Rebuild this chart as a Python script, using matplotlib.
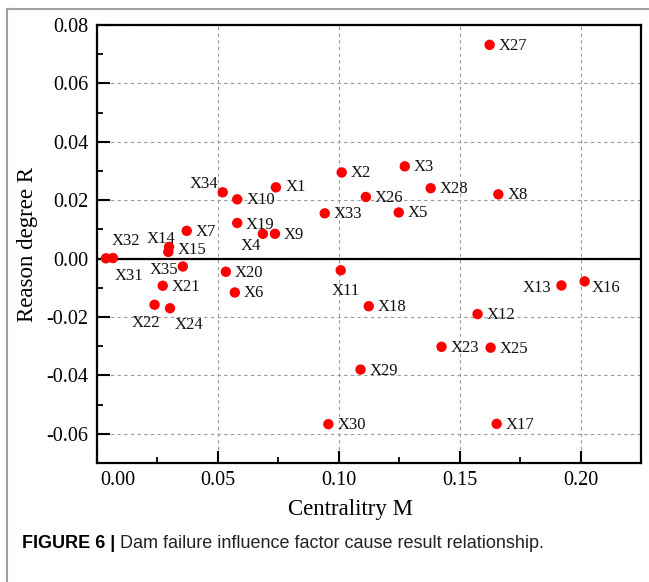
import matplotlib
matplotlib.use("Agg")
import matplotlib.pyplot as plt
from matplotlib.ticker import MultipleLocator, FormatStrFormatter
from matplotlib.lines import Line2D
import matplotlib.transforms as mtransforms

# ---- data ----
names = ["X1", "X2", "X3", "X4", "X5", "X6", "X7", "X8", "X9", "X10",
         "X11", "X12", "X13", "X14", "X15", "X16", "X17", "X18", "X19", "X20",
         "X21", "X22", "X23", "X24", "X25", "X26", "X27", "X28", "X29", "X30",
         "X31", "X32", "X33", "X34", "X35"]
centrality = [0.0740, 0.1012, 0.1273, 0.0686, 0.1248, 0.0570, 0.0371, 0.1660, 0.0736, 0.0580,
              0.1008, 0.1574, 0.1921, 0.0298, 0.0295, 0.2017, 0.1653, 0.1124, 0.0580, 0.0533,
              0.0272, 0.0238, 0.1425, 0.0302, 0.1628, 0.1112, 0.1624, 0.1380, 0.1090, 0.0957,
              0.0037, 0.0066, 0.0942, 0.0520, 0.0355]
reason = [0.0244, 0.0295, 0.0316, 0.0085, 0.0158, -0.0116, 0.0095, 0.0220, 0.0085, 0.0203,
          -0.0040, -0.0190, -0.0092, 0.0040, 0.0023, -0.0078, -0.0566, -0.0163, 0.0122, -0.0045,
          -0.0093, -0.0158, -0.0302, -0.0170, -0.0305, 0.0211, 0.0732, 0.0241, -0.0380, -0.0567,
          0.0001, 0.0002, 0.0155, 0.0227, -0.0027]

# ---- label placement (pixel offsets, ha) ----
default_off = (9, -1, "left")
label_off = {
    "X34": (-4, 8, "right"),
    "X1": (10, 0, "left"),
    "X19": (8, -2, "left"),
    "X4": (-2, -12, "right"),
    "X14": (-8, 8, "center"),
    "X15": (9, 2, "left"),
    "X32": (-1, 17, "left"),
    "X31": (9, -18, "left"),
    "X35": (-5, -4, "right"),
    "X22": (-9, -18, "center"),
    "X24": (5, -17, "left"),
    "X11": (5, -21, "center"),
    "X13": (-10, -3, "right"),
    "X16": (7, -7, "left"),
}

fig = plt.figure(figsize=(6.49, 5.82), dpi=100)
W, H = 649, 582
ax = fig.add_axes([97 / W, (H - 463) / H, 544 / W, 438 / H])

serif = "Liberation Serif"

ax.scatter(centrality, reason, s=56, color="#ff0000", edgecolors="none", zorder=3)
for n, x, y in zip(names, centrality, reason):
    dx, dy, ha = label_off.get(n, default_off)
    ax.annotate(n, (x, y), xytext=(dx, dy), textcoords="offset pixels",
                ha=ha, va="center", fontsize=12, family=serif, color="#111111", zorder=4)

ax.axhline(0, color="black", lw=1.6, zorder=2)

ax.set_xlim(0, 0.225)
ax.set_ylim(-0.07, 0.08)
ax.xaxis.set_major_locator(MultipleLocator(0.05))
ax.xaxis.set_minor_locator(MultipleLocator(0.025))
ax.yaxis.set_major_locator(MultipleLocator(0.02))
ax.yaxis.set_minor_locator(MultipleLocator(0.01))
ax.xaxis.set_major_formatter(FormatStrFormatter("%.2f"))
ax.yaxis.set_major_formatter(FormatStrFormatter("%.2f"))

ax.grid(True, which="major", color="#999999", linestyle=(0, (3, 3)), linewidth=0.8)
ax.set_axisbelow(True)

ax.tick_params(which="both", direction="in", top=False, right=False)
ax.tick_params(which="major", length=9, width=1.5, labelsize=14.5, pad=6)
ax.tick_params(which="minor", length=4, width=1.3)
for sp in ax.spines.values():
    sp.set_linewidth(1.6)

for lab in ax.get_xticklabels() + ax.get_yticklabels():
    lab.set_family(serif)

# shift 0.00 x-label to the right like the reference
fig.canvas.draw()
xl = ax.get_xticklabels()
for lab in xl:
    if lab.get_text() == "0.00":
        lab.set_transform(lab.get_transform() + mtransforms.ScaledTranslation(21 / 100, 0, fig.dpi_scale_trans))

ax.set_xlabel("Centralitry M", fontsize=16.5, family=serif, labelpad=4)
ax.xaxis.set_label_coords((350 - 97) / 544, -0.082)
ax.set_ylabel("Reason degree R", fontsize=16.5, family=serif, labelpad=6)

# frame lines of the figure panel
fig.add_artist(Line2D([7 / W, 7 / W], [0, 1 - 9 / H], transform=fig.transFigure,
                      color="#a0a0a0", lw=1.5))
fig.add_artist(Line2D([7 / W, 1], [1 - 9 / H, 1 - 9 / H], transform=fig.transFigure,
                      color="#a0a0a0", lw=1.5))

# caption
cap_y = 1 - 543 / H
t1 = fig.text(22 / W, cap_y, "FIGURE 6 |", fontsize=13, family="Liberation Sans",
              fontweight="bold", va="center", ha="left")
fig.canvas.draw()
bb = t1.get_window_extent(renderer=fig.canvas.get_renderer())
fig.text((bb.x1 + 5) / W, cap_y, "Dam failure influence factor cause result relationship.",
         fontsize=13, family="Liberation Sans", va="center", ha="left", color="#222222")

fig.savefig("out.png", dpi=100)
